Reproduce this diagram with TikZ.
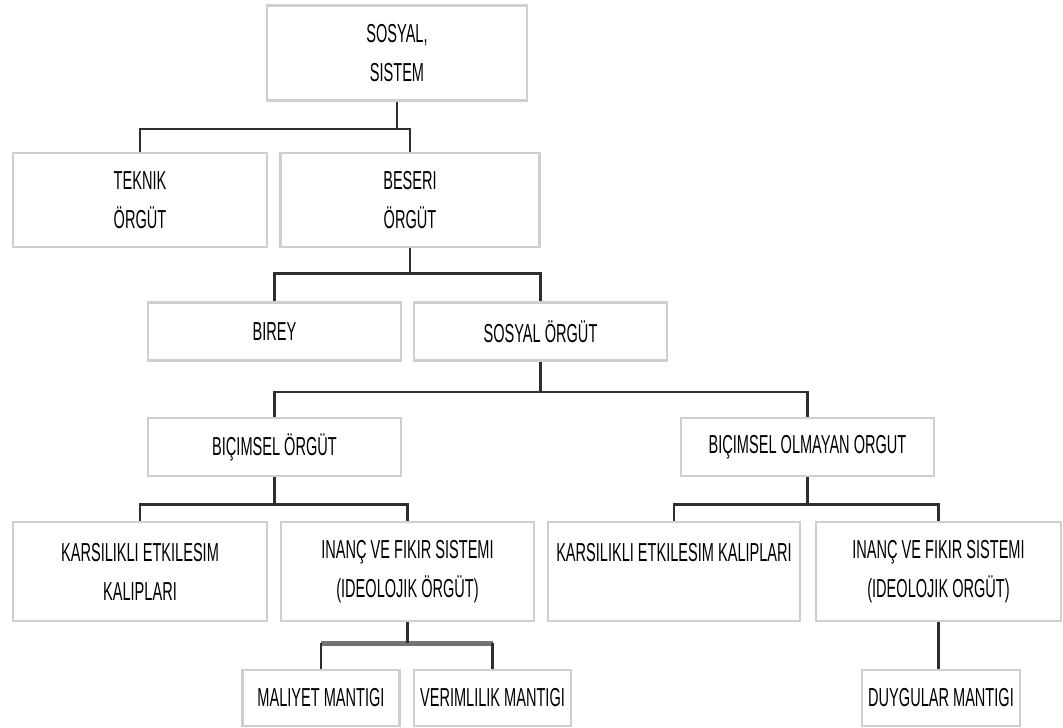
\documentclass[tikz,border=0pt]{standalone}
\usepackage{fontspec}
\setmainfont{Liberation Sans}[FakeStretch=0.56]
\usetikzlibrary{calc,positioning}
\tikzset{
  kutu/.style={
    rectangle,
    draw=black!19, line width=2.6pt,
    inner sep=0pt,
    align=center,
    text=black,
    font=\fontsize{26}{39}\selectfont},
  conn/.style={draw=black!82, line width=2.4pt},
  greybar/.style={draw=black!55, line width=4.5pt},
}
\begin{document}
\begin{tikzpicture}[x=1pt,y=-1pt]
  \useasboundingbox (0,0) rectangle (1063,728);
     \node[kutu, minimum width=260, minimum height=95] (sistem) at (397,53) {SOSYAL,\\SISTEM};
     \node[kutu, minimum width=254, minimum height=94] (teknik) at (140,200) {TEKNIK\\ÖRGÜT};
     \node[kutu, minimum width=259, minimum height=94] (beseri) at (410,200) {BESERI\\ÖRGÜT};
     \node[kutu, minimum width=253, minimum height=58] (birey) at (274.5,331.5) {BIREY};
     \node[kutu, minimum width=253, minimum height=58] (sorgut) at (540.5,331.5) {SOSYAL ÖRGÜT};
     \node[kutu, minimum width=253, minimum height=58] (bicimsel) at (274.5,447) {BIÇIMSEL ÖRGÜT};
     \node[kutu, minimum width=253, minimum height=58] (olmayan) at (807.5,447) {BIÇIMSEL OLMAYAN ORGUT};
     \node[kutu, minimum width=254, minimum height=99] (kars1) at (140,571.5) {KARSILIKLI ETKILESIM\\KALIPLARI};
     \node[kutu, minimum width=253, minimum height=99] (inanc1) at (407.5,571.5) {INANÇ VE FIKIR SISTEMI\\(IDEOLOJIK ÖRGÜT)};
     \node[kutu, minimum width=252, minimum height=99] (kars2) at (674,571.5) {KARSILIKLI ETKILESIM KALIPLARI\\\mbox{}};
     \node[kutu, minimum width=245, minimum height=99] (inanc2) at (938.5,571.5) {INANÇ VE FIKIR SISTEMI\\(IDEOLOJIK ORGÜT)};
     \node[kutu, minimum width=157, minimum height=56] (maliyet) at (321,698) {MALIYET MANTIGI};
     \node[kutu, minimum width=157, minimum height=56] (verim) at (492.5,698) {VERIMLILIK MANTIGI};
     \node[kutu, minimum width=158, minimum height=56] (duygu) at (941,698) {DUYGULAR MANTIGI};
     \draw[conn] (sistem.south) -- ++(0,27) -| (teknik.north);
     \draw[conn] (sistem.south) ++(0,27) -| (beseri.north);
     \draw[conn] (beseri.south) -- ++(0,25) -| (birey.north);
     \draw[conn] (beseri.south) ++(0,25) -| (sorgut.north);
     \draw[conn] (sorgut.south) -- ++(0,30) -| (bicimsel.north);
     \draw[conn] (sorgut.south) ++(0,30) -| (olmayan.north);
     \draw[conn] (bicimsel.south) -- ++(0,27) -| (kars1.north);
     \draw[conn] (bicimsel.south) ++(0,27) -| (inanc1.north);
     \draw[conn] (olmayan.south) -- ++(0,27) -| (kars2.north);
     \draw[conn] (olmayan.south) ++(0,27) -| (inanc2.north);
     \coordinate (m1) at ($(inanc1.south)+(0,21)$);
     \draw[greybar] (maliyet.north |- m1) -- (verim.north |- m1);
     \draw[conn] (inanc1.south) -- (m1);
     \draw[conn] (maliyet.north) -- (maliyet.north |- m1);
     \draw[conn] (verim.north) -- (verim.north |- m1);
     \draw[conn] (inanc2.south) -- (inanc2.south |- duygu.north);
  \end{tikzpicture}
\end{document}
